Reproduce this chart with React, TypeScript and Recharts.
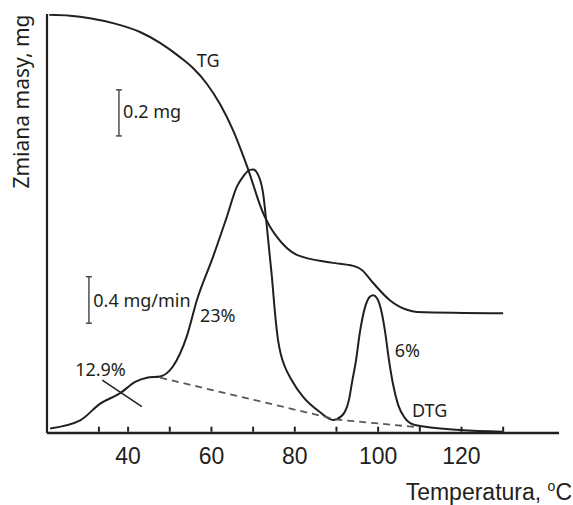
import React from 'react';
import { LineChart, Line, XAxis, YAxis, ReferenceLine, ReferenceDot, Label } from 'recharts';

// ---- data (temperature in °C, signals in relative units of the drawing) ----
const tgTemperature = [21.07, 26.06, 30.86, 36.86, 42.86, 47.66, 52.45, 55.57, 58.93, 62.05, 65.17, 68.53, 72.4, 74.05, 75.7, 80.5, 89.2, 94.9, 96.1, 98.8, 102.8, 106.9, 109.3, 130.0];
const tgMass = [99.8, 99.6, 99.0, 97.7, 95.7, 93.1, 89.7, 87.1, 83.3, 78.5, 72.3, 63.7, 52.5, 49.2, 46.8, 42.5, 40.6, 39.6, 38.9, 35.8, 31.7, 29.4, 28.9, 28.6];

const dtgTemperature = [21.3, 28.5, 33.3, 38.1, 41.7, 44.5, 47.7, 50.7, 54.06, 56.5, 60.4, 63.7, 66.1, 67.6, 69.2, 70.0, 71.0, 72.4, 73.3, 74.5, 75.37, 75.97, 76.69, 77.65, 79.09, 82.0, 86.0, 89.2, 90.1, 92.0, 93.0, 93.7, 94.7, 95.6, 96.8, 98.0, 98.8, 99.7, 100.7, 101.6, 102.6, 103.6, 104.8, 106.4, 108.8, 119.6, 130.0];
const dtgRate = [1.1, 3.0, 7.0, 9.5, 12.2, 13.2, 13.5, 15.8, 23.0, 31.7, 42.1, 51.6, 58.8, 61.2, 62.8, 62.9, 62.0, 57.2, 49.2, 37.3, 27.4, 22.2, 18.6, 15.75, 12.9, 8.6, 5.0, 3.1, 3.3, 5.0, 7.9, 11.9, 17.4, 23.9, 29.8, 32.5, 32.9, 32.2, 29.4, 24.6, 17.4, 11.5, 6.7, 3.6, 1.9, 0.7, 0.3];

const baselineTemperature = [47.7, 90.1, 109.3];
const baselineRate = [13.2, 3.2, 1.4];

const crossTemperature = [33.8, 43.3];
const crossRate = [12.6, 6.3];

const xMinorTicks = [33, 40, 50, 60, 70, 80, 90, 100, 110, 120, 130];
const xTickLabels = [40, 60, 80, 100, 120];

const annotationText = ['TG', '0.2 mg', '0.4 mg/min', '23%', '12.9%', '6%', 'DTG'];
const annotationX = [56.5, 38.8, 31.65, 57.25, 27.3, 104.0, 108.1];
const annotationY = [87.4, 75.2, 30.1, 26.6, 13.6, 18.1, 3.8];

const scaleBarX = [37.8, 30.6];
const scaleBarLow = [70.9, 26.2];
const scaleBarHigh = [81.9, 37.3];

// ---- derived tables ----
const tgData = tgTemperature.map((t, i) => ({ t, v: tgMass[i] }));
const dtgData = dtgTemperature.map((t, i) => ({ t, v: dtgRate[i] }));
const baselineData = baselineTemperature.map((t, i) => ({ t, v: baselineRate[i] }));
const crossData = crossTemperature.map((t, i) => ({ t, v: crossRate[i] }));

const INK = '#231f20';
const X_DOMAIN: [number, number] = [20.54, 143.4];
const SERIF = 0.72;
const TICK_LEN = 1.5;

const AxisTick = (props: any) => {
  const { x, y, payload } = props;
  return (
    <text x={x} y={y + 31} textAnchor="middle" fontFamily="'Liberation Sans', Arial, sans-serif" fontSize={23} fill={INK}>
      {payload.value}
    </text>
  );
};

const YTitle = (props: any) => {
  const vb = props.viewBox || { x: 0, y: 14 };
  const cx = vb.x + 28.5;
  const cy = vb.y + 87.5;
  return (
    <text x={cx} y={cy} transform={`rotate(-90, ${cx}, ${cy})`} textAnchor="middle" fontFamily="'Noto Sans', sans-serif" fontSize={21} fill={INK}>
      Zmiana masy, mg
    </text>
  );
};

const XTitle = (props: any) => {
  const vb = props.viewBox || { x: 47, y: 433, width: 512 };
  const x = vb.x + vb.width + 13;
  const y = vb.y + 67;
  return (
    <text x={x} y={y} textAnchor="end" fontFamily="'Liberation Sans', Arial, sans-serif" fontSize={23} fill={INK}>
      Temperatura,{' '}
      <tspan fontSize={14} dy={-9}>o</tspan>
      <tspan fontSize={23} dy={9}>C</tspan>
    </text>
  );
};

export default function App() {
  return (
    <div style={{ position: 'absolute', left: 0, top: 0, background: '#fff' }}>
      <LineChart width={573} height={505} margin={{ top: 14, right: 14, left: 0, bottom: 32 }}>
        <XAxis
          type="number"
          dataKey="t"
          domain={X_DOMAIN}
          allowDataOverflow
          ticks={xTickLabels}
          interval={0}
          tickSize={0}
          tickMargin={0}
          tickLine={false}
          tick={<AxisTick />}
          height={40}
          axisLine={{ stroke: INK, strokeWidth: 2.6 }}
        >
          <Label content={<XTitle />} />
        </XAxis>
        <YAxis
          type="number"
          dataKey="v"
          domain={[0, 100]}
          allowDataOverflow
          width={47}
          tick={false}
          tickLine={false}
          axisLine={{ stroke: INK, strokeWidth: 2.2 }}
        >
          <Label content={<YTitle />} />
        </YAxis>

        <Line data={tgData} dataKey="v" type="monotone" stroke={INK} strokeWidth={2} dot={false} isAnimationActive={false} />
        <Line data={dtgData} dataKey="v" type="monotone" stroke={INK} strokeWidth={2} dot={false} isAnimationActive={false} />
        <Line data={baselineData} dataKey="v" type="linear" stroke="#58595b" strokeWidth={1.8} strokeDasharray="7 5" dot={false} isAnimationActive={false} />
        <Line data={crossData} dataKey="v" type="linear" stroke={INK} strokeWidth={1.5} dot={false} isAnimationActive={false} />

        {xMinorTicks.map((x, i) => (
          <ReferenceLine key={`tick${i}`} segment={[{ x, y: TICK_LEN }, { x, y: 0.3 }]} stroke={INK} strokeWidth={2} ifOverflow="extendDomain" />
        ))}

        {scaleBarX.map((x, i) => (
          <ReferenceLine key={`bar${i}`} segment={[{ x, y: scaleBarLow[i] }, { x, y: scaleBarHigh[i] }]} stroke="#4d4d4f" strokeWidth={1.5} ifOverflow="visible" />
        ))}
        {scaleBarX.map((x, i) => (
          <ReferenceLine key={`top${i}`} segment={[{ x: x - SERIF, y: scaleBarHigh[i] }, { x: x + SERIF, y: scaleBarHigh[i] }]} stroke="#4d4d4f" strokeWidth={1.5} ifOverflow="visible" />
        ))}
        {scaleBarX.map((x, i) => (
          <ReferenceLine key={`bot${i}`} segment={[{ x: x - SERIF, y: scaleBarLow[i] }, { x: x + SERIF, y: scaleBarLow[i] }]} stroke="#4d4d4f" strokeWidth={1.5} ifOverflow="visible" />
        ))}

        {annotationText.map((txt, i) => (
          <ReferenceDot
            key={`ann${i}`}
            x={annotationX[i]}
            y={annotationY[i]}
            r={1}
            ifOverflow="visible"
            shape={(p: any) => (
              <text x={p.cx} y={p.cy} fontFamily="'Noto Sans', sans-serif" fontSize={18} fill={INK}>
                {txt}
              </text>
            )}
          />
        ))}
      </LineChart>
    </div>
  );
}
